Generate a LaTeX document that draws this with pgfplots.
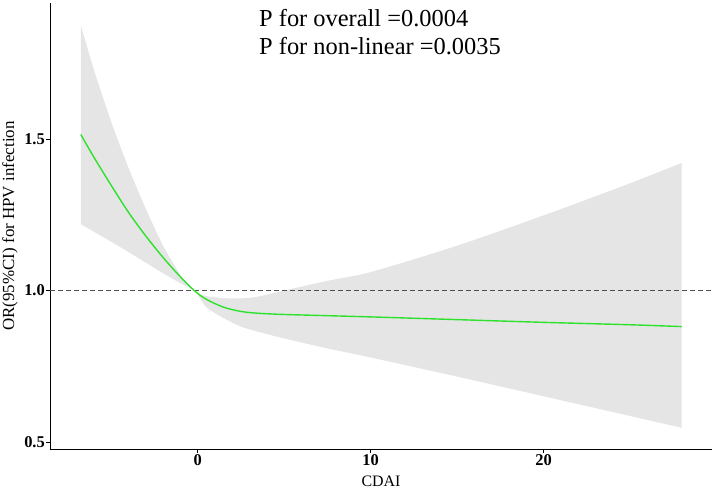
\documentclass[border=0pt]{standalone}
\usepackage{pgfplots}
\pgfplotsset{compat=1.18}
\usepgfplotslibrary{fillbetween}
\usepackage{fontspec}
\setmainfont{Liberation Serif}
\definecolor{bandgray}{RGB}{229,229,229}
\definecolor{curvegreen}{RGB}{45,225,45}
\definecolor{refgray}{RGB}{80,80,80}
\begin{document}
\begin{tikzpicture}[x=1bp,y=1bp]
\begin{axis}[
  scale only axis,
  width=662bp, height=446bp,
  xmin=-8.54, xmax=29.74,
  ymin=0.477, ymax=1.949,
  axis x line=bottom, axis y line=left,
  axis line style={-, black, line width=0.7bp},
  xtick={0,10,20}, xticklabels={0,10,20},
  ytick={0.5,1.0,1.5}, yticklabels={0.5,1.0,1.5},
  tick align=outside, major tick length=4bp,
  tick style={black, line width=0.7bp},
  xticklabel style={font=\fontsize{16.5}{19}\selectfont\bfseries, inner sep=1bp},
  yticklabel style={font=\fontsize{16.5}{19}\selectfont\bfseries, inner sep=1bp},
  xlabel={CDAI},
  ylabel={OR(95\%CI) for HPV infection},
  xlabel style={font=\fontsize{16}{19}\selectfont, at={(axis description cs:0.5,0)}, anchor=base, inner sep=0pt, yshift=-37.5bp},
  ylabel style={font=\fontsize{17}{20}\selectfont, at={(axis description cs:-0.0604,0.5)}, anchor=center, inner sep=0pt},
  clip=false,
]
\addplot[name path=hi, draw=none, smooth, tension=0.5] coordinates {
 (-6.76,1.876) (-6,1.728) (-5,1.557) (-4,1.405) (-3,1.270) (-2,1.148) (-1,1.052) (-0.2,1.0)
 (0.5,0.982) (1.5,0.975) (2.5,0.974) (3.5,0.980) (5,1.0) (7.5,1.032) (10,1.061)
 (15,1.148) (20,1.248) (25,1.354) (27.98,1.421)};
\addplot[name path=lo, draw=none, smooth, tension=0.5] coordinates {
 (-6.76,1.219) (-6,1.194) (-5,1.161) (-4,1.127) (-3,1.092) (-2,1.057) (-1,1.024) (-0.2,1.0)
 (0.5,0.945) (1.5,0.909) (2.5,0.881) (3.5,0.864) (5,0.842) (7.5,0.809) (10,0.779)
 (15,0.716) (20,0.651) (25,0.586) (27.98,0.547)};
\addplot[bandgray, draw=none] fill between[of=hi and lo];
\addplot[refgray, line width=1.1bp, dash pattern=on 4.5bp off 3.5bp] coordinates {(-8.54,1) (29.74,1)};
\addplot[curvegreen, line width=1.4bp, smooth, tension=0.5] coordinates {
 (-6.76,1.515) (-6,1.440) (-5,1.347) (-4,1.258) (-3,1.180) (-2,1.109) (-1,1.045) (-0.2,1.0)
 (0.5,0.971) (1.5,0.945) (2.5,0.931) (3.5,0.925) (5,0.921) (7.5,0.917) (10,0.913)
 (15,0.904) (20,0.895) (25,0.887) (27.98,0.881)};
\end{axis}
\node[anchor=base west, inner sep=0pt, font=\fontsize{24.5}{29}\selectfont] at (209bp,422.3bp) {P for overall =0.0004};
\node[anchor=base west, inner sep=0pt, font=\fontsize{24.5}{29}\selectfont] at (209bp,394bp) {P for non-linear =0.0035};
\pgfresetboundingbox
\path (-50bp,-40bp) rectangle (665bp,449bp);
\end{tikzpicture}
\end{document}
